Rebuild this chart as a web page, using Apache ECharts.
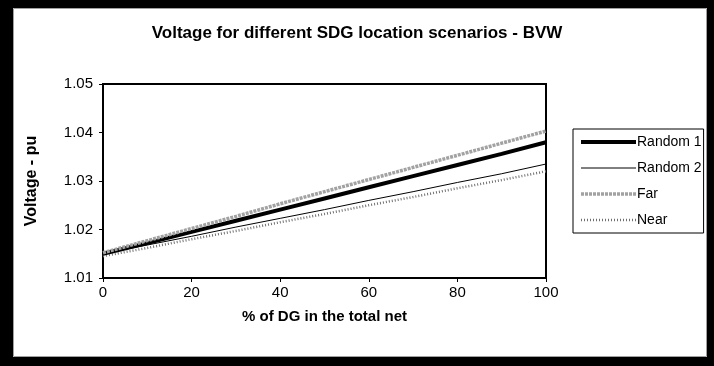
<!DOCTYPE html>
<html>
<head>
<meta charset="utf-8">
<script src="https://cdn.jsdelivr.net/npm/echarts@6/dist/echarts.min.js"></script>
<style>
  html, body { margin: 0; padding: 0; background: #fff; }
  #chart { width: 714px; height: 366px; }
</style>
</head>
<body>
<div id="chart"></div>
<script>
// Share of DG in the total net (%)
const dgShare = [0, 10, 20, 30, 40, 50, 60, 70, 80, 90, 100];
const xTicks = [0, 20, 40, 60, 80, 100];
const yTicks = [1.01, 1.02, 1.03, 1.04, 1.05];

// Voltage (pu) per SDG location scenario
const random1 = [1.0150, 1.0172, 1.0195, 1.0218, 1.0241, 1.0264, 1.0287, 1.0310, 1.0333, 1.0356, 1.0380];
const random2 = [1.0150, 1.0168, 1.0186, 1.0205, 1.0223, 1.0241, 1.0260, 1.0278, 1.0297, 1.0315, 1.0335];
const far     = [1.0152, 1.0177, 1.0202, 1.0227, 1.0253, 1.0278, 1.0303, 1.0328, 1.0353, 1.0378, 1.0403];
const near    = [1.0145, 1.0162, 1.0180, 1.0197, 1.0215, 1.0232, 1.0250, 1.0267, 1.0285, 1.0302, 1.0320];

const FONT = 'Arial, "Liberation Sans", sans-serif';
const pairs = arr => dgShare.map((x, i) => [x, arr[i]]);

// line looks shared by the plotted series and their legend keys
const styles = {
  'Random 1': { color: '#000', width: 4, type: 'solid' },
  'Random 2': { color: '#000', width: 1, type: 'solid' },
  'Far':      { color: '#a2a2a2', width: 3.5, type: [3, 1] },
  'Near':     { color: '#707070', width: 2.5, type: [1, 2] }
};

const chart = echarts.init(document.getElementById('chart'), null, { renderer: 'canvas' });

const makeSeries = (name, arr, z) => ({
  name, type: 'line', data: pairs(arr), symbol: 'none', showSymbol: false, z,
  itemStyle: { color: styles[name].color },
  lineStyle: Object.assign({}, styles[name])
});

chart.setOption({
  animation: false,
  backgroundColor: '#ffffff',
  title: {
    text: 'Voltage for different SDG location scenarios - BVW',
    left: 'center',
    top: 20,
    textStyle: { fontFamily: FONT, fontSize: 17, fontWeight: 'bold', color: '#000' }
  },
  grid: {
    left: 103, right: 168, top: 84, bottom: 88,
    show: true, borderColor: '#000', borderWidth: 2, backgroundColor: 'transparent'
  },
  legend: {
    orient: 'vertical',
    left: 573, top: 129,
    padding: [6, 2, 6, 6],
    itemWidth: 55, itemHeight: 14, itemGap: 12,
    borderColor: '#000', borderWidth: 1, backgroundColor: '#fff',
    textStyle: { fontFamily: FONT, fontSize: 14, color: '#000', padding: [0, 0, 0, -4] },
    data: Object.keys(styles).map(name => ({
      name,
      itemStyle: { opacity: 0 },
      lineStyle: Object.assign({}, styles[name])
    }))
  },
  xAxis: {
    type: 'value',
    min: 0, max: 100, interval: 20,
    name: '% of DG in the total net',
    nameLocation: 'middle', nameGap: 31,
    nameTextStyle: { fontFamily: FONT, fontSize: 15, fontWeight: 'bold', color: '#000' },
    axisLine: { show: true, lineStyle: { color: '#000', width: 2 } },
    axisTick: { show: true, inside: false, length: 4, lineStyle: { color: '#000', width: 1 } },
    axisLabel: {
      fontFamily: FONT, fontSize: 15, color: '#000', margin: 7,
      formatter: v => xTicks.includes(v) ? String(v) : ''
    },
    splitLine: { show: false }
  },
  yAxis: {
    type: 'value',
    min: 1.01, max: 1.05, interval: 0.01,
    name: 'Voltage - pu',
    nameLocation: 'middle', nameGap: 63, nameRotate: 90,
    nameTextStyle: { fontFamily: FONT, fontSize: 16, fontWeight: 'bold', color: '#000' },
    axisLine: { show: true, lineStyle: { color: '#000', width: 2 } },
    axisTick: { show: true, inside: false, length: 4, lineStyle: { color: '#000', width: 1 } },
    axisLabel: {
      fontFamily: FONT, fontSize: 15, color: '#000', margin: 10,
      formatter: v => {
        const t = yTicks.find(y => Math.abs(y - v) < 1e-6);
        return t !== undefined ? t.toFixed(2) : '';
      }
    },
    splitLine: { show: false }
  },
  series: [
    makeSeries('Random 1', random1, 4),
    makeSeries('Random 2', random2, 3),
    makeSeries('Far', far, 5),
    makeSeries('Near', near, 2)
  ],
  graphic: [
    // heavy frame around the whole chart
    { type: 'rect', silent: true, z: 100, shape: { x: 0, y: 0, width: 714, height: 8 }, style: { fill: '#000' } },
    { type: 'rect', silent: true, z: 100, shape: { x: 0, y: 0, width: 13, height: 366 }, style: { fill: '#000' } },
    { type: 'rect', silent: true, z: 100, shape: { x: 707, y: 0, width: 7, height: 366 }, style: { fill: '#000' } },
    { type: 'rect', silent: true, z: 100, shape: { x: 0, y: 357, width: 714, height: 9 }, style: { fill: '#000' } },
    { type: 'rect', silent: true, z: 99, shape: { x: 13.5, y: 8.5, width: 693, height: 348 }, style: { fill: null, stroke: '#a0a0a0', lineWidth: 1 } }
  ]
});
</script>
</body>
</html>
